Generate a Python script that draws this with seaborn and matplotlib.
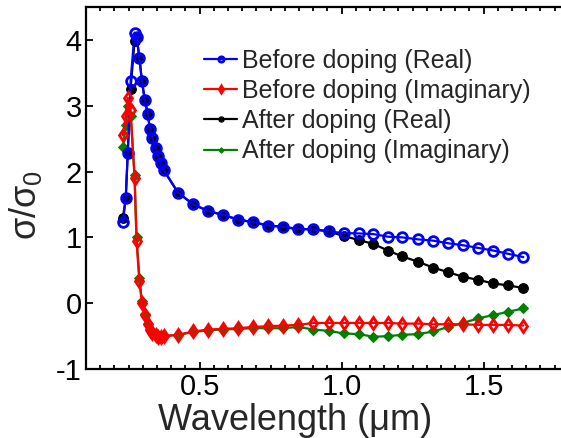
import matplotlib
matplotlib.use("Agg")
import matplotlib.pyplot as plt
import seaborn as sns
import pandas as pd
from matplotlib.ticker import MultipleLocator

# Wavelength grid (um)
wavelength = [0.230, 0.240, 0.247, 0.257, 0.271, 0.278, 0.288, 0.297, 0.307, 0.318,
              0.325, 0.333, 0.345, 0.354, 0.363, 0.374, 0.424, 0.478, 0.531, 0.583,
              0.636, 0.689, 0.742, 0.795, 0.848, 0.900, 0.954, 1.008, 1.061, 1.112,
              1.163, 1.214, 1.269, 1.323, 1.376, 1.428, 1.481, 1.534, 1.587, 1.640]

before_real = [1.23, 1.60, 2.28, 3.37, 4.11, 4.05, 3.73, 3.37, 3.09, 2.87,
               2.64, 2.51, 2.36, 2.23, 2.13, 2.02, 1.68, 1.50, 1.40, 1.34,
               1.27, 1.23, 1.18, 1.16, 1.13, 1.12, 1.09, 1.065, 1.06, 1.05,
               1.01, 1.00, 0.97, 0.95, 0.91, 0.88, 0.84, 0.80, 0.75, 0.70]

before_imag = [2.55, 2.85, 3.12, 2.93, 1.90, 0.94, 0.33, 0.00, -0.18, -0.32,
               -0.40, -0.45, -0.49, -0.51, -0.51, -0.50, -0.48, -0.43, -0.40, -0.39,
               -0.38, -0.36, -0.35, -0.34, -0.33, -0.30, -0.30, -0.30, -0.30, -0.30,
               -0.30, -0.31, -0.31, -0.32, -0.32, -0.32, -0.33, -0.33, -0.33, -0.34]

after_real = [1.30, 1.60, 2.28, 3.26, 3.98, 4.05, 3.73, 3.37, 3.09, 2.87,
              2.64, 2.51, 2.36, 2.23, 2.13, 2.02, 1.68, 1.50, 1.40, 1.34,
              1.27, 1.23, 1.18, 1.16, 1.12, 1.13, 1.09, 1.02, 0.96, 0.90,
              0.80, 0.71, 0.63, 0.54, 0.47, 0.40, 0.355, 0.30, 0.27, 0.23]

after_imag = [2.38, 2.70, 2.99, 2.85, 1.95, 1.00, 0.38, 0.03, -0.17, -0.31,
              -0.39, -0.44, -0.48, -0.50, -0.50, -0.50, -0.48, -0.44, -0.41, -0.40,
              -0.39, -0.38, -0.38, -0.38, -0.36, -0.40, -0.42, -0.46, -0.47, -0.51,
              -0.50, -0.48, -0.47, -0.43, -0.36, -0.30, -0.23, -0.18, -0.13, -0.08]

sns.set_style("ticks")
plt.rcParams['font.family'] = ['Liberation Sans', 'DejaVu Sans']
plt.rcParams['mathtext.fontset'] = 'custom'
plt.rcParams['mathtext.rm'] = 'Liberation Sans'
plt.rcParams['axes.unicode_minus'] = False

df = pd.DataFrame({'wl': wavelength, 'br': before_real, 'bi': before_imag,
                   'ar': after_real, 'ai': after_imag})

fig = plt.figure(figsize=(5.61, 4.38), dpi=100)
ax = fig.add_axes([0.1533, 0.1575, 0.8606, 0.8265])

green = (0, 0.5, 0)
# after-doping curves sit underneath
sns.lineplot(data=df, x='wl', y='ar', ax=ax, color='black', lw=1.6, marker='o',
             markersize=7, markeredgecolor='black', label='After doping (Real)', zorder=2)
sns.lineplot(data=df, x='wl', y='ai', ax=ax, color=green, lw=1.6, marker='D',
             markersize=5, markeredgecolor=green, label='After doping (Imaginary)', zorder=2)
sns.lineplot(data=df, x='wl', y='br', ax=ax, color='blue', lw=1.6, marker='o',
             markersize=7, markerfacecolor='none', markeredgecolor='blue', markeredgewidth=2,
             label='Before doping (Real)', zorder=3)
sns.lineplot(data=df, x='wl', y='bi', ax=ax, color='red', lw=1.6, marker='d',
             markersize=6.5, markerfacecolor='none', markeredgecolor='red', markeredgewidth=2,
             label='Before doping (Imaginary)', zorder=3)

ax.set_xlim(0.1, 1.8)
ax.set_ylim(-1, 4.5)
ax.xaxis.set_major_locator(MultipleLocator(0.5))
ax.xaxis.set_minor_locator(MultipleLocator(0.05))
ax.yaxis.set_major_locator(MultipleLocator(1))
ax.tick_params(which='both', direction='in', top=True, right=True, width=1.3, colors='black')
ax.tick_params(which='major', length=5, labelsize=21, pad=3)
ax.tick_params(which='minor', length=3)
for s in ax.spines.values():
    s.set_linewidth(1.6)
    s.set_color('black')

ax.set_xlabel('Wavelength (μm)', fontsize=26)
ax.xaxis.set_label_coords(0.433, -0.095)
ax.set_ylabel(r'σ/σ$_\mathregular{0}$', fontsize=26)
ax.yaxis.set_label_coords(-0.088, 0.453)

h, l = ax.get_legend_handles_labels()
order = [2, 3, 0, 1]
ax.legend([h[i] for i in order], [l[i] for i in order], frameon=False, fontsize=18,
          loc='upper left', bbox_to_anchor=(0.245, 0.885), borderpad=0, borderaxespad=0,
          handlelength=1.3, handletextpad=0.2, labelspacing=0.25, markerscale=0.55)

fig.savefig('out.png', dpi=100)
